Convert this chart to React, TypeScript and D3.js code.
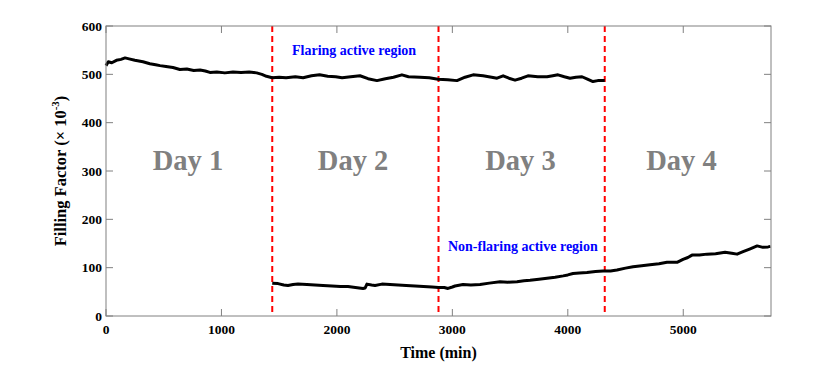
import React from "react";
import * as d3 from "d3";

// flaring active region (day 1 - day 3)
const flaringTime = [
  0, 20, 50, 90, 130, 165, 200, 250, 320, 380, 430, 468, 520, 580, 640, 700,
  760, 815, 860, 900, 960, 1030, 1100, 1170, 1240, 1305, 1350, 1390, 1440,
  1500, 1560, 1640, 1707, 1780, 1850, 1920, 1990, 2045, 2120, 2200, 2270, 2347,
  2420, 2490, 2563, 2620, 2720, 2800, 2876, 2960, 3040, 3110, 3180, 3266, 3340,
  3387, 3440, 3490, 3543, 3600, 3655, 3740, 3820, 3870, 3915, 3970, 4019, 4070,
  4123, 4170, 4218, 4260, 4320,
];
const flaringValue = [
  518, 526, 524, 529, 531, 534, 532, 529, 526, 522, 520, 518, 516, 514, 510,
  511, 508, 509, 507, 504, 505, 503, 505, 504, 505, 503, 500, 496, 493, 494,
  493, 495, 493, 497, 499, 496, 495, 493, 495, 497, 491, 487, 491, 494, 499,
  495, 494, 493, 490, 489, 487, 494, 499, 497, 494, 492, 497, 492, 488, 492,
  497, 495, 495, 497, 499, 495, 492, 494, 495, 490, 485, 487, 487,
];

// non-flaring active region (day 2 - day 4)
const quietTime = [
  1440, 1490, 1540, 1576, 1620, 1663, 1740, 1810, 1880, 1957, 2030, 2096, 2160,
  2226, 2245, 2260, 2300, 2330, 2390, 2460, 2530, 2600, 2677, 2750, 2824, 2880,
  2930, 2962, 3000, 3023, 3092, 3160, 3240, 3320, 3413, 3480, 3560, 3620, 3673,
  3750, 3820, 3890, 3960, 4000, 4045, 4100, 4166, 4240, 4305, 4370, 4426, 4500,
  4565, 4640, 4712, 4790, 4859, 4946, 4998, 5040, 5076, 5140, 5206, 5280, 5362,
  5420, 5466, 5518, 5580, 5640, 5690, 5735, 5755,
];
const quietValue = [
  68, 67, 64, 63, 65, 66, 65, 64, 63, 62, 61, 61, 59, 57, 58, 66, 64, 63, 66,
  65, 64, 63, 62, 61, 60, 59, 59, 57, 60, 62, 65, 64, 65, 68, 71, 70, 71, 73,
  74, 76, 78, 80, 83, 85, 88, 89, 90, 92, 93, 93, 95, 99, 102, 104, 106, 108,
  111, 111, 117, 121, 126, 126, 128, 129, 132, 130, 128, 133, 139, 145, 142,
  143, 144,
];

const dayBounds = [1440, 2880, 4320];
const dayLabels = ["Day 1", "Day 2", "Day 3", "Day 4"];
const dayLabelTime = [710, 2140, 3590, 4985];
const xTicks = [0, 1000, 2000, 3000, 4000, 5000];
const yTicks = [0, 100, 200, 300, 400, 500, 600];

const App = () => {
  const margin = { left: 106, right: 59, top: 26, bottom: 52 };
  const width = 830;
  const height = 368;
  const x = d3
    .scaleLinear()
    .domain([0, 5760])
    .range([margin.left, width - margin.right]);
  const y = d3
    .scaleLinear()
    .domain([0, 600])
    .range([height - margin.bottom, margin.top]);

  const line = d3
    .line<[number, number]>()
    .x((d) => x(d[0]))
    .y((d) => y(d[1]));
  const flaring = flaringTime.map((t, i) => [t, flaringValue[i]] as [number, number]);
  const quiet = quietTime.map((t, i) => [t, quietValue[i]] as [number, number]);

  const x0 = x.range()[0];
  const x1 = x.range()[1];
  const y0 = y.range()[0];
  const y1 = y.range()[1];
  const axisColor = "#808080";
  const font = "'Liberation Serif', 'Times New Roman', serif";

  return (
    <svg
      width={width}
      height={height}
      style={{ position: "absolute", left: 0, top: 0, background: "#fff" }}
      fontFamily={font}
    >
      {/* day labels */}
      {dayLabels.map((d, i) => (
        <text
          key={d}
          x={x(dayLabelTime[i])}
          y={y(302)}
          textAnchor="middle"
          fontSize={28.5}
          fontWeight="bold"
          fill="#808080"
        >
          {d}
        </text>
      ))}

      {/* day boundaries */}
      {dayBounds.map((t) => (
        <line
          key={t}
          x1={x(t)}
          x2={x(t)}
          y1={y1}
          y2={y0}
          stroke="#ff0000"
          strokeWidth={2}
          strokeDasharray="6,4"
        />
      ))}

      <path d={line(flaring) || ""} fill="none" stroke="#000" strokeWidth={3} strokeLinejoin="round" />
      <path d={line(quiet) || ""} fill="none" stroke="#000" strokeWidth={3} strokeLinejoin="round" />

      <text x={x(1611)} y={y(540)} fontSize={14} fontWeight="bold" fill="#0000ff">
        Flaring active region
      </text>
      <text x={x(2962)} y={y(134.5)} fontSize={14} fontWeight="bold" fill="#0000ff">
        Non-flaring active region
      </text>

      {/* frame */}
      <rect x={x0} y={y1} width={x1 - x0} height={y0 - y1} fill="none" stroke={axisColor} strokeWidth={1} />

      {xTicks.map((t) => (
        <g key={t}>
          <line x1={x(t)} x2={x(t)} y1={y0} y2={y0 - 7} stroke={axisColor} />
          <line x1={x(t)} x2={x(t)} y1={y1} y2={y1 + 7} stroke={axisColor} />
          <text x={x(t)} y={y0 + 18} textAnchor="middle" fontSize={13.5} fontWeight="bold">
            {t}
          </text>
        </g>
      ))}
      {yTicks.map((v) => (
        <g key={v}>
          <line x1={x0} x2={x0 + 7} y1={y(v)} y2={y(v)} stroke={axisColor} />
          <line x1={x1} x2={x1 - 7} y1={y(v)} y2={y(v)} stroke={axisColor} />
          <text x={x0 - 4} y={y(v) + 4.5} textAnchor="end" fontSize={13.5} fontWeight="bold">
            {v}
          </text>
        </g>
      ))}

      <text x={(x0 + x1) / 2} y={358} textAnchor="middle" fontSize={16} fontWeight="bold">
        Time (min)
      </text>
      <text
        transform={`translate(66, ${(y0 + y1) / 2}) rotate(-90)`}
        textAnchor="middle"
        fontSize={16.5}
        fontWeight="bold"
      >
        Filling Factor (× 10
        <tspan fontSize={11} dy={-7}>-3</tspan>
        <tspan dy={7}>)</tspan>
      </text>
    </svg>
  );
};

export default App;
